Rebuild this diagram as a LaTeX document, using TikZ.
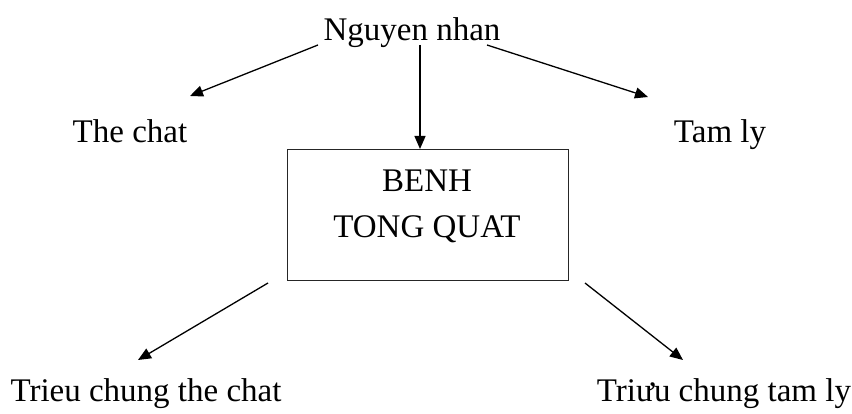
\documentclass[tikz,border=0pt]{standalone}
\usepackage{fontspec}
\setmainfont{Liberation Serif}
\usetikzlibrary{positioning, calc, arrows.meta}

\begin{document}
\begin{tikzpicture}[
        x=1pt, y=-1pt,
        label/.style={
            inner sep=0pt,
            anchor=base,
            font=\fontsize{33}{46}\selectfont
        },
        block/.style={
            rectangle,
            draw=black!85,
            line width=1.4pt,
            minimum width=281pt,
            minimum height=131pt,
            anchor=north west,
            inner sep=0pt
        },
        arrow/.style={
            -{Triangle[length=13pt,width=11pt]},
            line width=1.3pt,
            black
        }
    ]
        \useasboundingbox (0,0) rectangle (852,414);

        \node [label] (cause) at (412,41) {Nguyen nhan};
        \node [label] (physique) at (130,143) {The chat};
        \node [label] (mind) at (720,143) {Tam ly};
        \node [block] (disease) at (287,149) {};
        \node [label] (title1) at (427,192) {BENH};
        \node [label] (title2) at (427,238) {TONG QUAT};
        \node [label] (symbody) at (146,401) {Trieu chung the chat};
        \node [label] (symmind) at (724,401) {Triưu chung tam ly};

        % free ends of the connectors
        \coordinate (c1) at (318,45);
        \coordinate (c2) at (487,45);
        \coordinate (c3) at (420,45);
        \coordinate (d1) at (268,283);
        \coordinate (d2) at (585,283);
        \coordinate (t1) at (190,96);
        \coordinate (t2) at (648,97);
        \coordinate (t3) at (disease.north -| c3);
        \coordinate (t4) at (138,360);
        \coordinate (t5) at (683,360);

        \draw [arrow] (c1) -- (t1);
        \draw [arrow] (c2) -- (t2);
        \draw [arrow] (c3) -- (t3);
        \draw [arrow] (d1) -- (t4);
        \draw [arrow] (d2) -- (t5);
    \end{tikzpicture}
\end{document}
